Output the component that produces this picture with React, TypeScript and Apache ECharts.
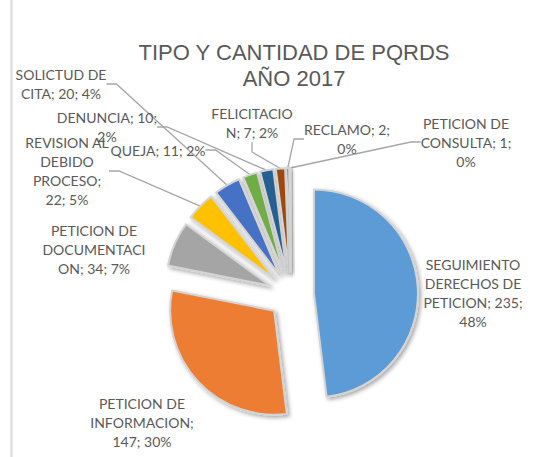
import React, { useEffect, useRef } from "react";
import * as echarts from "echarts";

const categories = [
  "SEGUIMIENTO DERECHOS DE PETICION",
  "PETICION DE INFORMACION",
  "PETICION DE DOCUMENTACION",
  "REVISION AL DEBIDO PROCESO",
  "SOLICTUD DE CITA",
  "QUEJA",
  "DENUNCIA",
  "FELICITACION",
  "RECLAMO",
  "PETICION DE CONSULTA",
];
const values = [235, 147, 34, 22, 20, 11, 10, 7, 2, 1];
const titleLines = ["TIPO Y CANTIDAD DE PQRDS", "AÑO 2017"];

// styling / layout (not data)
const colors = [
  "#5B9BD5", "#ED7D31", "#A5A5A5", "#FFC000", "#4472C4",
  "#70AD47", "#255E91", "#9E480E", "#636363", "#997300",
];
const wrapChars = [14, 12, 11, 11, 12, 13, 13, 11, 11, 12];
const labelCenters: [number, number][] = [
  [473, 293], [142, 422], [94, 249], [67, 171], [61, 84],
  [158, 150], [107, 127], [252, 123], [347, 139], [466, 142],
];
const noLeader = [true, true, true, false, false, false, false, false, false, false];
const PIE_CENTER = [291, 295];
const PIE_RADIUS = 104;
const EXPLODE = 23;

function wrap(text: string, max: number): string {
  const words = text.split(" ");
  const lines: string[] = [];
  let cur = "";
  for (let w of words) {
    const cand = cur ? cur + " " + w : w;
    if (cand.length <= max) { cur = cand; continue; }
    if (cur) { lines.push(cur); cur = ""; }
    while (w.length > max) { lines.push(w.slice(0, max)); w = w.slice(max); }
    cur = w;
  }
  if (cur) lines.push(cur);
  return lines.join("\n");
}

export default function App() {
  const ref = useRef<HTMLDivElement>(null);
  useEffect(() => {
    if (!ref.current) return;
    const chart = echarts.init(ref.current, undefined, { renderer: "svg" });
    const total = values.reduce((a, b) => a + b, 0);
    let cum = 0;
    const series = values.map((v, i) => {
      const mid = ((cum + v / 2) / total) * 2 * Math.PI;
      cum += v;
      const cx = PIE_CENTER[0] + EXPLODE * Math.sin(mid);
      const cy = PIE_CENTER[1] - EXPLODE * Math.cos(mid);
      return {
        type: "pie",
        center: [cx, cy],
        radius: PIE_RADIUS,
        startAngle: 90,
        clockwise: true,
        percentPrecision: 0,
        silent: true,
        emphasis: { disabled: true },
        label: {
          show: true,
          fontFamily: "Lato",
          fontSize: 14,
          lineHeight: 19,
          color: "#595959",
          align: "center",
          formatter: (p: any) =>
            wrap(`${p.name}; ${p.value}; ${p.percent}%`, wrapChars[p.dataIndex]),
        },
        labelLine: {
          show: true,
          length: 10,
          length2: 10,
          lineStyle: { color: "#a6a6a6", width: 1.3 },
        },
        labelLayout: (p: any) => {
          const c = labelCenters[p.dataIndex];
          return { x: c[0], y: c[1], align: "center", verticalAlign: "middle" };
        },
        data: categories.map((name, j) => ({
          name,
          value: values[j],
          itemStyle:
            j === i
              ? {
                  color: colors[j],
                  borderColor: "#d4d4d4",
                  borderWidth: 2,
                  shadowBlur: 4,
                  shadowOffsetX: 2,
                  shadowOffsetY: 2,
                  shadowColor: "rgba(0,0,0,0.35)",
                }
              : { color: "rgba(0,0,0,0)", borderWidth: 0, shadowBlur: 0, shadowColor: "rgba(0,0,0,0)" },
          label: { show: j === i },
          labelLine: { show: j === i && !noLeader[j] },
        })),
      };
    });
    chart.setOption({
      animation: false,
      backgroundColor: "#ffffff",
      title: {
        text: titleLines.join("\n"),
        left: 294,
        textAlign: "center",
        top: 39,
        padding: 0,
        textStyle: {
          fontFamily: "Liberation Sans",
          fontSize: 22,
          fontWeight: "normal",
          color: "#595959",
          lineHeight: 26,
        },
      },
      graphic: [
        {
          type: "line",
          shape: { x1: 11.5, y1: 0, x2: 11.5, y2: 457 },
          style: { stroke: "#d9d9d9", lineWidth: 2 },
          silent: true,
        },
      ],
      series,
    });
    return () => chart.dispose();
  }, []);
  return (
    <div
      ref={ref}
      style={{ position: "absolute", left: 0, top: 0, width: 555, height: 457 }}
    />
  );
}
